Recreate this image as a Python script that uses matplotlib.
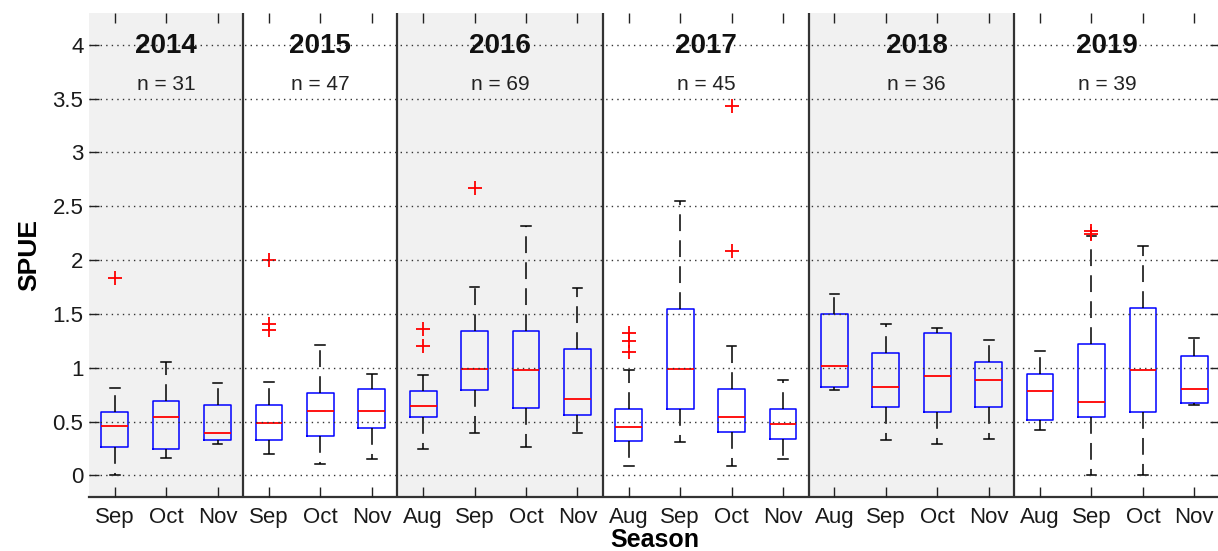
import matplotlib
matplotlib.use("Agg")
import matplotlib.pyplot as plt

plt.rcParams['font.family'] = ['Liberation Sans', 'DejaVu Sans']

# ---------------- data ----------------
months = ['Sep', 'Oct', 'Nov', 'Sep', 'Oct', 'Nov',
          'Aug', 'Sep', 'Oct', 'Nov', 'Aug', 'Sep', 'Oct', 'Nov',
          'Aug', 'Sep', 'Oct', 'Nov', 'Aug', 'Sep', 'Oct', 'Nov']
years = ['2014', '2015', '2016', '2017', '2018', '2019']
boxes_per_year = [3, 3, 4, 4, 4, 4]
n_counts = [31, 47, 69, 45, 36, 39]

whislo = [0.00, 0.16, 0.29, 0.20, 0.11, 0.155, 0.25, 0.39, 0.265, 0.39, 0.085,
          0.31, 0.085, 0.155, 0.79, 0.325, 0.295, 0.335, 0.42, 0.00, 0.00, 0.655]
q1 = [0.265, 0.25, 0.33, 0.33, 0.37, 0.44, 0.54, 0.79, 0.625, 0.56, 0.32,
      0.615, 0.405, 0.335, 0.82, 0.64, 0.585, 0.64, 0.515, 0.54, 0.585, 0.67]
med = [0.46, 0.54, 0.39, 0.49, 0.60, 0.60, 0.645, 0.99, 0.98, 0.71, 0.45,
       0.99, 0.54, 0.475, 1.015, 0.82, 0.92, 0.89, 0.78, 0.68, 0.975, 0.805]
q3 = [0.59, 0.69, 0.65, 0.655, 0.765, 0.805, 0.78, 1.34, 1.34, 1.175, 0.615,
      1.545, 0.805, 0.615, 1.50, 1.14, 1.32, 1.055, 0.945, 1.225, 1.56, 1.11]
whishi = [0.81, 1.05, 0.86, 0.87, 1.21, 0.945, 0.93, 1.75, 2.32, 1.745, 0.98,
          2.545, 1.20, 0.89, 1.69, 1.405, 1.37, 1.26, 1.155, 2.225, 2.135, 1.28]
fliers = [[1.83], [], [], [2.00, 1.41, 1.35], [], [],
          [1.36, 1.20], [2.67], [], [],
          [1.32, 1.25, 1.15], [], [3.43, 2.085], [],
          [], [], [], [],
          [], [2.275, 2.24], [], []]

yticks = [0, 0.5, 1, 1.5, 2, 2.5, 3, 3.5, 4]
ytick_labels = ['0', '0.5', '1', '1.5', '2', '2.5', '3', '3.5', '4']

# ---------------- figure ----------------
fig = plt.figure(figsize=(12.18, 5.51), dpi=100)
ax = fig.add_axes([89 / 1218, 1 - 497 / 551, (1220 - 89) / 1218, (497 - 12.5) / 551])

positions = list(range(1, len(months) + 1))
stats = []
for i in range(len(months)):
    stats.append(dict(whislo=whislo[i], q1=q1[i], med=med[i], q3=q3[i],
                      whishi=whishi[i], fliers=fliers[i]))

ax.bxp(stats, positions=positions, widths=0.52, capwidths=0.19,
       showfliers=True, patch_artist=False,
       boxprops=dict(color='#0000ff', linewidth=1.1),
       medianprops=dict(color='#ff0000', linewidth=1.3),
       whiskerprops=dict(color='black', linewidth=1.1, linestyle=(0, (11, 6))),
       capprops=dict(color='black', linewidth=1.1),
       flierprops=dict(marker='+', markeredgecolor='#ff0000', markersize=10,
                       markeredgewidth=1.3, linestyle='none'))

# year panels
start = 0.5
label_offsets = [0, 0, 0, 0, 0.1, -0.2]
for k, nb in enumerate(boxes_per_year):
    end = start + nb
    if k % 2 == 0:
        ax.axvspan(start, end, facecolor='#f1f1f1', edgecolor='none', zorder=0)
    if k > 0:
        ax.axvline(start, color='#333333', linewidth=1.6, zorder=3)
    c = (start + end) / 2 + label_offsets[k]
    ax.text(c, 3.99, years[k], ha='center', va='center', fontsize=20,
            fontweight='bold', color='#111111', zorder=4)
    ax.text(c, 3.63, 'n = %d' % n_counts[k], ha='center', va='center',
            fontsize=15, color='#222222', zorder=4)
    start = end

ax.set_xlim(0.5, len(months) + 0.5)
ax.set_ylim(-0.2, 4.3)
ax.set_xticks(positions)
ax.set_xticklabels(months)
ax.set_yticks(yticks)
ax.set_yticklabels(ytick_labels)

ax.yaxis.grid(True, linestyle=(0, (1, 3)), linewidth=1.0, color='#333333')
ax.xaxis.grid(False)
ax.set_axisbelow(False)

for s in ['left', 'top', 'right']:
    ax.spines[s].set_visible(False)
ax.spines['bottom'].set_color('#333333')
ax.spines['bottom'].set_linewidth(1.6)

ax.tick_params(axis='both', direction='in', length=7, width=1.0,
               color='#222222', labelsize=16, labelcolor='#1a1a1a',
               top=True, right=True)
ax.tick_params(axis='x', pad=7)
ax.tick_params(axis='y', pad=4)

ax.set_xlabel('Season', fontsize=18, fontweight='bold', labelpad=0)
ax.set_ylabel('SPUE', fontsize=19, fontweight='bold', labelpad=8)

fig.savefig('out.png', dpi=100)
